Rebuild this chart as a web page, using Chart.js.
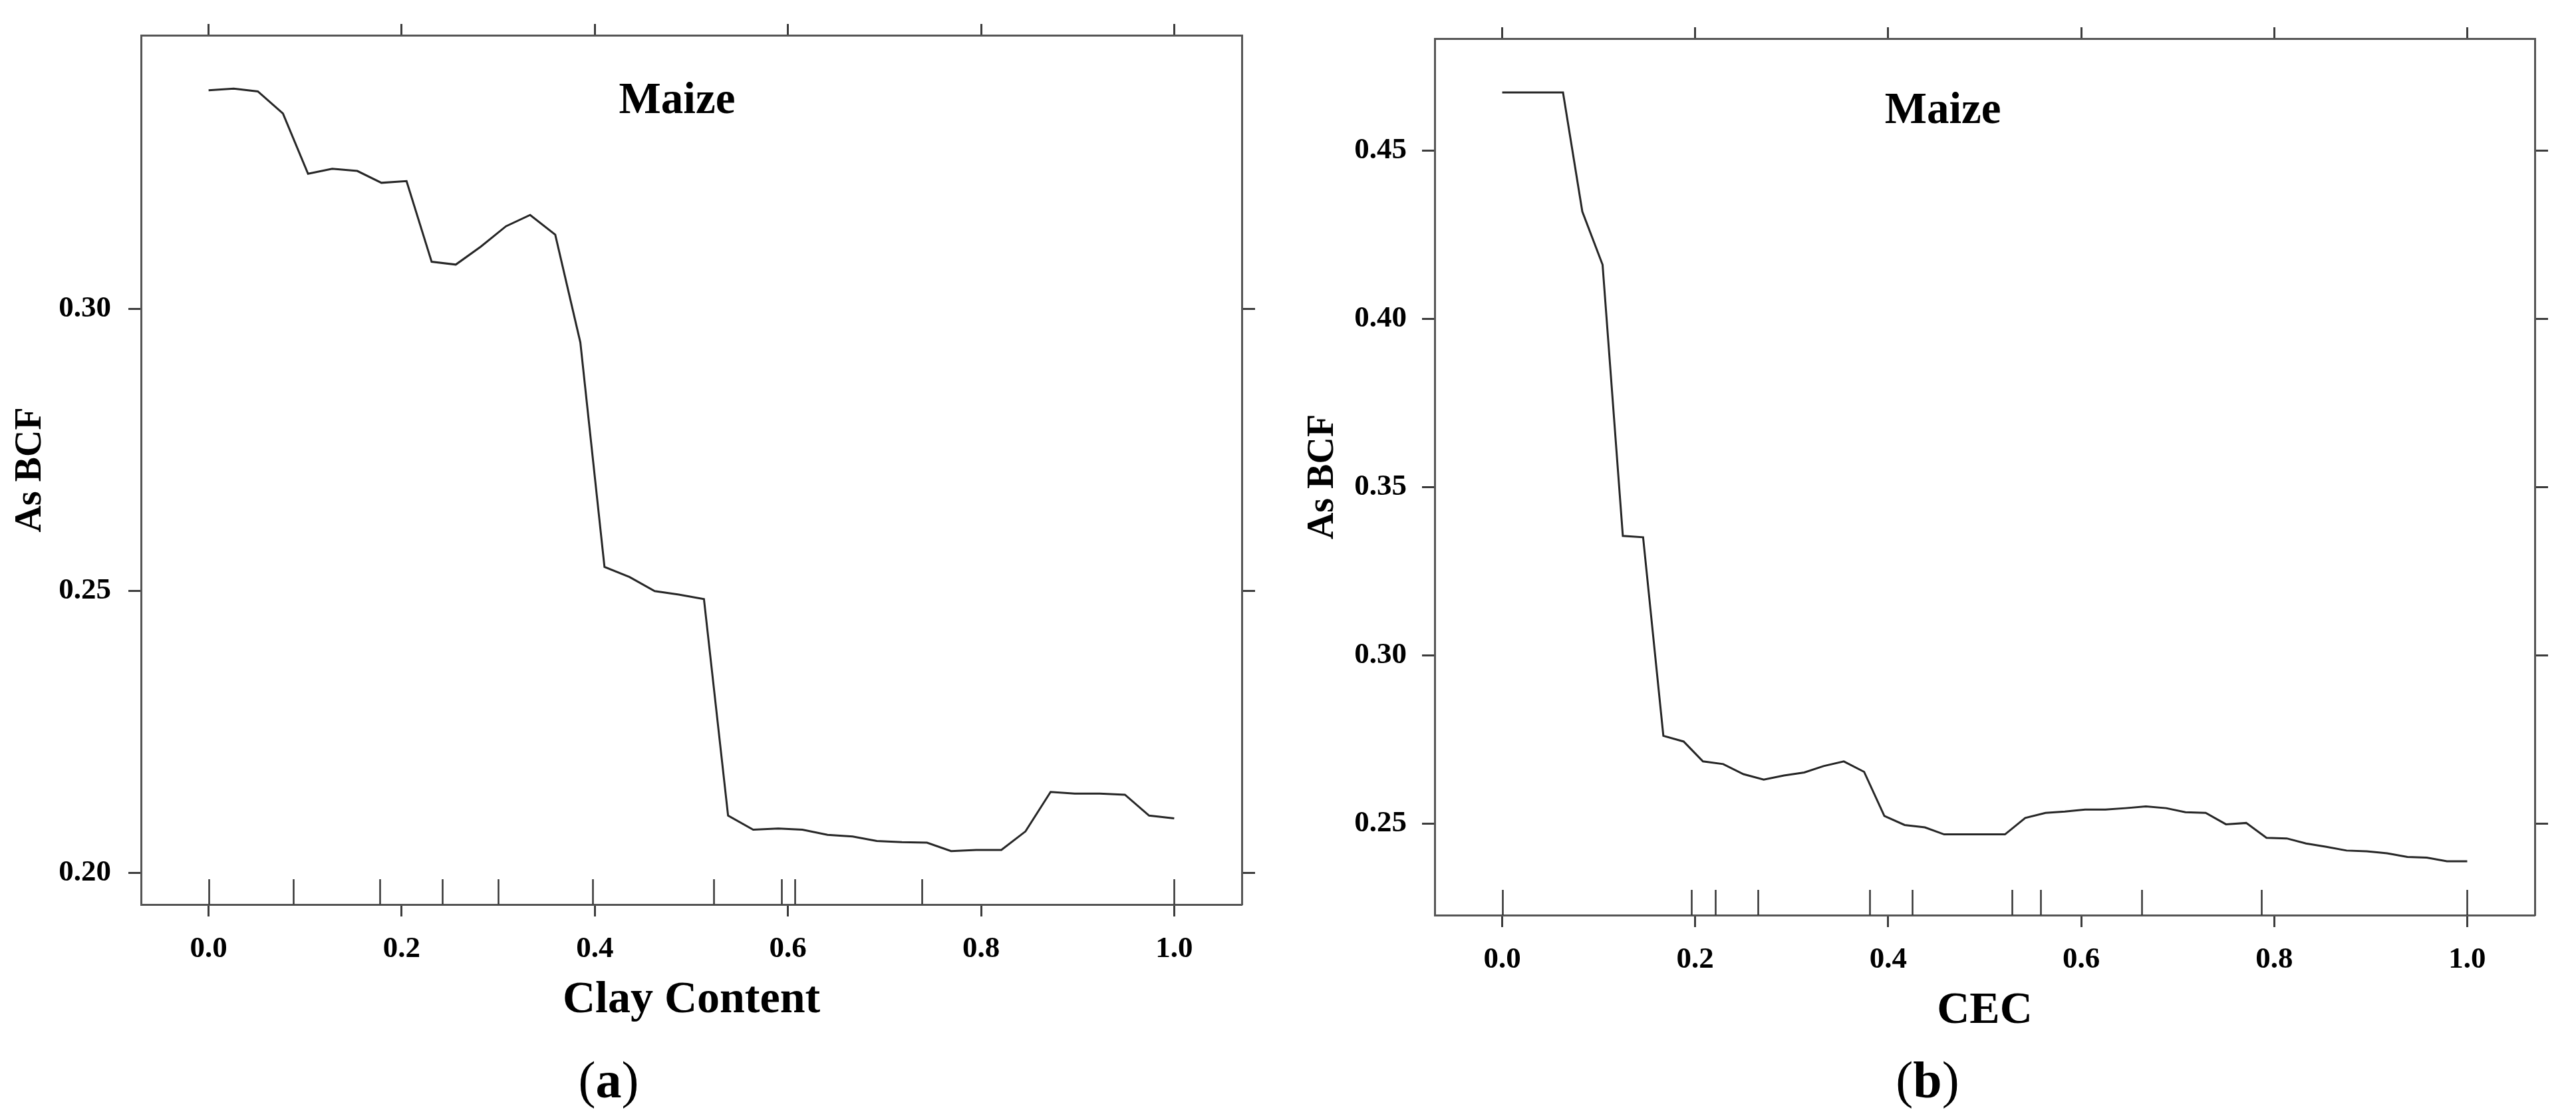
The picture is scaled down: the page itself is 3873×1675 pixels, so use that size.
<!DOCTYPE html>
<html>
<head>
<meta charset="utf-8">
<script src="https://cdn.jsdelivr.net/npm/chart.js@4.4.1/dist/chart.umd.min.js"></script>
<style>
  html, body { margin: 0; padding: 0; background: #ffffff; }
  #wrap { position: relative; width: 3873px; height: 1675px; overflow: hidden; background: #ffffff; }
  canvas { position: absolute; top: 0; }
</style>
</head>
<body>
<div id="wrap">
  <canvas id="chartA" width="1936" height="1675" style="left:0px"></canvas>
  <canvas id="chartB" width="1937" height="1675" style="left:1936px"></canvas>
</div>
<script>
// ---------------- data ----------------
const xTickValues = [0.0, 0.2, 0.4, 0.6, 0.8, 1.0];

// (a) Clay Content vs As BCF
const clayX = [0.000,0.026,0.051,0.077,0.103,0.128,0.154,0.179,0.205,0.231,
               0.256,0.282,0.308,0.333,0.359,0.385,0.410,0.436,0.462,0.487,
               0.513,0.538,0.564,0.590,0.615,0.641,0.667,0.692,0.718,0.744,
               0.769,0.795,0.821,0.846,0.872,0.897,0.923,0.949,0.974,1.000];
const clayBCF = [0.3388,0.3391,0.3386,0.3347,0.3240,0.3249,0.3245,0.3224,0.3227,0.3084,
                 0.3079,0.3111,0.3147,0.3167,0.3132,0.2941,0.2543,0.2525,0.2500,0.2494,
                 0.2486,0.2102,0.2077,0.2079,0.2077,0.2068,0.2065,0.2057,0.2055,0.2054,
                 0.2039,0.2041,0.2041,0.2074,0.2144,0.2141,0.2141,0.2139,0.2102,0.2097];
const clayRug = [0.000,0.088,0.177,0.242,0.300,0.398,0.523,0.593,0.607,0.739,1.000];
const clayYTicks = [0.20, 0.25, 0.30];

// (b) CEC vs As BCF
const cecX = [0.000,0.021,0.042,0.063,0.083,0.104,0.125,0.146,0.167,0.188,
              0.208,0.229,0.250,0.271,0.292,0.313,0.333,0.354,0.375,0.396,
              0.417,0.438,0.458,0.479,0.500,0.521,0.542,0.563,0.583,0.604,
              0.625,0.646,0.667,0.688,0.708,0.729,0.750,0.771,0.792,0.813,
              0.833,0.854,0.875,0.896,0.917,0.938,0.958,0.979,1.000];
const cecBCF = [0.4673,0.4673,0.4673,0.4673,0.4319,0.4161,0.3355,0.3351,0.2761,0.2744,
                0.2685,0.2677,0.2647,0.2631,0.2643,0.2652,0.2671,0.2685,0.2654,0.2523,
                0.2496,0.2489,0.2468,0.2468,0.2468,0.2468,0.2517,0.2532,0.2536,0.2542,
                0.2542,0.2546,0.2551,0.2546,0.2534,0.2532,0.2498,0.2502,0.2458,0.2456,
                0.2441,0.2431,0.2420,0.2418,0.2412,0.2401,0.2399,0.2388,0.2388];
const cecRug = [0.000,0.196,0.221,0.265,0.381,0.425,0.528,0.558,0.663,0.787,1.000];
const cecYTicks = [0.25, 0.30, 0.35, 0.40, 0.45];

const panelTitle = 'Maize';
const yTitle = 'As BCF';

// ---------------- helpers ----------------
const FAM = "'Liberation Serif', 'Times New Roman', serif";

function padRange(vals, frac) {
  const lo = Math.min(...vals), hi = Math.max(...vals);
  const d = (hi - lo) * frac;
  return [lo - d, hi + d];
}

const rugPlugin = {
  id: 'rug',
  afterDatasetsDraw(chart, args, opts) {
    const xs = chart.scales.x, area = chart.chartArea, c = chart.ctx;
    c.save();
    c.strokeStyle = opts.color;
    c.lineWidth = opts.width;
    opts.values.forEach(v => {
      const px = Math.round(xs.getPixelForValue(v)) + 0.5;
      c.beginPath();
      c.moveTo(px, area.bottom);
      c.lineTo(px, area.bottom - opts.length);
      c.stroke();
    });
    c.restore();
  }
};

const textPlugin = {
  id: 'panelText',
  afterDraw(chart, args, opts) {
    const c = chart.ctx, area = chart.chartArea;
    c.save();
    c.fillStyle = '#000';
    // in-plot title
    c.font = 'bold ' + opts.titleSize + 'px ' + FAM;
    c.textAlign = 'center';
    c.textBaseline = 'middle';
    c.fillText(opts.title, area.left + opts.titleFx * (area.right - area.left),
               area.top + opts.titleFy * (area.bottom - area.top));
    // sub-figure caption "(a)" with bold letter
    const parts = [['(', ''], [opts.letter, 'bold '], [')', '']];
    let total = 0;
    parts.forEach(p => { c.font = p[1] + opts.capSize + 'px ' + FAM; total += c.measureText(p[0]).width; });
    let x = opts.capX - total / 2;
    c.textAlign = 'left';
    c.textBaseline = 'alphabetic';
    parts.forEach(p => {
      c.font = p[1] + opts.capSize + 'px ' + FAM;
      c.fillText(p[0], x, opts.capY);
      x += c.measureText(p[0]).width;
    });
    c.restore();
  }
};

function makePanel(id, o) {
  const pts = o.xs.map((x, i) => ({ x: x, y: o.ys[i] }));
  const [xmin, xmax] = padRange(o.xs, 0.07);
  const [ymin, ymax] = padRange(o.ys, 0.07);
  const tickFont = { family: FAM, size: 45, weight: 'bold' };
  const grid = len => ({ display: true, drawOnChartArea: false, drawTicks: true,
                         tickLength: len, tickWidth: 3, tickColor: '#3c3c3c' });
  const border = { display: true, color: '#555555', width: 3 };
  const setTicks = vals => scale => { scale.ticks = vals.map(v => ({ value: v })); };

  return new Chart(document.getElementById(id), {
    type: 'line',
    data: {
      datasets: [{
        data: pts,
        borderColor: '#262626',
        borderWidth: 3,
        pointRadius: 0,
        tension: 0,
        fill: false
      }]
    },
    options: {
      responsive: false,
      animation: false,
      events: [],
      layout: { padding: 0 },
      plugins: {
        legend: { display: false },
        tooltip: { enabled: false },
        rug: { values: o.rug, length: 38, width: 2.5, color: '#333333' },
        panelText: o.text
      },
      scales: {
        x: {
          type: 'linear', position: 'bottom', min: xmin, max: xmax,
          afterBuildTicks: setTicks(xTickValues),
          afterFit: s => { s.height = o.bottomH; },
          grid: grid(18), border: border,
          ticks: { font: tickFont, color: '#000', padding: 22, maxRotation: 0, autoSkip: false,
                   callback: v => Number(v).toFixed(1) },
          title: { display: true, text: o.xTitle, color: '#000',
                   font: { family: FAM, size: 68, weight: 'bold' },
                   padding: { top: 0, bottom: o.xTitlePad } }
        },
        xTop: {
          type: 'linear', position: 'top', min: xmin, max: xmax,
          afterBuildTicks: setTicks(xTickValues),
          afterFit: s => { s.height = o.topH; },
          grid: grid(17), border: border,
          ticks: { display: false }
        },
        y: {
          type: 'linear', position: 'left', min: ymin, max: ymax,
          afterBuildTicks: setTicks(o.yTicks),
          afterFit: s => { s.width = o.leftW; },
          grid: grid(19), border: border,
          ticks: { font: tickFont, color: '#000', padding: o.yPad, autoSkip: false,
                   callback: v => Number(v).toFixed(2) },
          title: { display: true, text: yTitle, color: '#000',
                   font: { family: FAM, size: 56, weight: 'bold' },
                   padding: { top: o.yTitlePad, bottom: 0 } }
        },
        yRight: {
          type: 'linear', position: 'right', min: ymin, max: ymax,
          afterBuildTicks: setTicks(o.yTicks),
          afterFit: s => { s.width = o.rightW; },
          grid: grid(20), border: border,
          ticks: { display: false }
        }
      }
    },
    plugins: [rugPlugin, textPlugin]
  });
}

makePanel('chartA', {
  xs: clayX, ys: clayBCF, rug: clayRug, yTicks: clayYTicks,
  xTitle: 'Clay Content',
  leftW: 212, rightW: 69, topH: 49, bottomH: 315,
  yPad: 26, xTitlePad: 130, yTitlePad: 13,
  text: { title: panelTitle, titleSize: 67, titleFx: 0.487, titleFy: 0.076,
          letter: 'a', capSize: 78, capX: 915, capY: 1650 }
});

makePanel('chartB', {
  xs: cecX, ys: cecBCF, rug: cecRug, yTicks: cecYTicks,
  xTitle: 'CEC',
  leftW: 221, rightW: 62, topH: 58, bottomH: 299,
  yPad: 23, xTitlePad: 114, yTitlePad: 20,
  text: { title: panelTitle, titleSize: 67, titleFx: 0.462, titleFy: 0.083,
          letter: 'b', capSize: 78, capX: 962, capY: 1650 }
});
</script>
</body>
</html>
